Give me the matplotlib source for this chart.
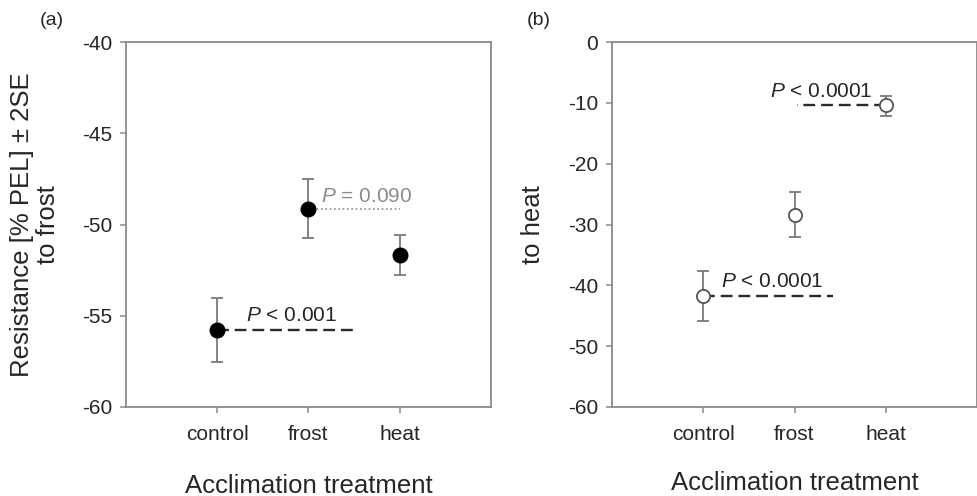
import matplotlib
matplotlib.use("Agg")
import matplotlib.pyplot as plt
import numpy as np

plt.rcParams['font.family'] = ['Liberation Sans', 'DejaVu Sans']
plt.rcParams['mathtext.fontset'] = 'custom'
plt.rcParams['mathtext.it'] = 'Liberation Sans:italic'
plt.rcParams['mathtext.rm'] = 'Liberation Sans'
plt.rcParams['axes.unicode_minus'] = False

categories = ['control', 'frost', 'heat']

# Panel (a): resistance to frost
frost_mean = [-55.8, -49.15, -51.65]
frost_err_hi = [1.8, 1.65, 1.05]
frost_err_lo = [1.75, 1.6, 1.1]

# Panel (b): resistance to heat
heat_mean = [-41.7, -28.4, -10.4]
heat_err_hi = [4.1, 3.8, 1.6]
heat_err_lo = [4.2, 3.7, 1.7]

# significance annotations: (from category index, to x-position, label, text x, text y, style, colour, lw)
ann_a = [
    (0, 1.52, r'$P$ < 0.001', 0.32, -55.3, (0, (5, 2.5)), '#2a2a2a', 1.7),
    (1, 2.0, r'$P$ = 0.090', 1.14, -48.75, (0, (1, 1.6)), '#8c8c8c', 1.2),
]
ann_b = [
    (0, 1.42, r'$P$ < 0.0001', 0.19, -40.3, (0, (5, 2.5)), '#2a2a2a', 1.7),
    (2, 1.03, r'$P$ < 0.0001', 0.73, -9.1, (0, (5, 2.5)), '#2a2a2a', 1.7),
]

W, H = 978, 496
fig = plt.figure(figsize=(W / 100, H / 100), dpi=100)

spine_col = '#8a8a8a'
txt_col = '#262626'


def make_ax(left_px):
    ax = fig.add_axes([left_px / W, (H - 407) / H, 365 / W, 365 / H])
    for s in ax.spines.values():
        s.set_color(spine_col)
        s.set_linewidth(1.3)
    ax.tick_params(direction='out', length=4, width=1.1, color=spine_col,
                   labelsize=15, labelcolor=txt_col, top=False, right=False)
    ax.tick_params(axis='x', pad=9)
    ax.tick_params(axis='y', pad=6)
    ax.set_xlim(-1, 3)
    x = np.arange(len(categories))
    ax.set_xticks(x)
    ax.set_xticklabels(categories)
    return ax


x = np.arange(len(categories))

# Panel (a)
axa = make_ax(126)
axa.set_ylim(-60, -40)
axa.set_yticks(np.arange(-60, -39, 5))
for (i0, xend, lab, tx, ty, ls, col, lw) in ann_a:
    axa.plot([x[i0], xend], [frost_mean[i0], frost_mean[i0]], linestyle=ls,
             color=col, lw=lw, zorder=2)
    axa.text(tx, ty, lab, fontsize=15, color=('#8c8c8c' if col == '#8c8c8c' else txt_col),
             ha='left', va='baseline')
axa.errorbar(x, frost_mean, yerr=[frost_err_lo, frost_err_hi], fmt='o',
             color='black', ms=10.5, ecolor='#7a7a7a', elinewidth=1.3,
             capsize=4, capthick=1.3, zorder=3)
axa.text(-0.25, 0.5, 'Resistance [% PEL] \u00b1 2SE\nto frost', transform=axa.transAxes,
         rotation=90, ha='center', va='center', fontsize=18.5, color=txt_col,
         linespacing=1.1)
axa.text(0.5, -0.235, 'Acclimation treatment', transform=axa.transAxes,
         ha='center', va='baseline', fontsize=18.5, color=txt_col)
fig.text(40 / W, 1 - 25 / H, '(a)', fontsize=14, color=txt_col, ha='left', va='baseline')

# Panel (b)
axb = make_ax(612)
axb.set_ylim(-60, 0)
axb.set_yticks(np.arange(-60, 1, 10))
for (i0, xend, lab, tx, ty, ls, col, lw) in ann_b:
    axb.plot([x[i0], xend], [heat_mean[i0], heat_mean[i0]], linestyle=ls,
             color=col, lw=lw, zorder=2)
    axb.text(tx, ty, lab, fontsize=15, color=txt_col, ha='left', va='baseline')
axb.errorbar(x, heat_mean, yerr=[heat_err_lo, heat_err_hi], fmt='o',
             mfc='white', mec='#555555', mew=1.3, ms=9.5, ecolor='#7a7a7a',
             elinewidth=1.3, capsize=4, capthick=1.3, zorder=3)
axb.text(-0.216, 0.5, 'to heat', transform=axb.transAxes,
         rotation=90, ha='center', va='center', fontsize=18.5, color=txt_col)
axb.text(0.5, -0.228, 'Acclimation treatment', transform=axb.transAxes,
         ha='center', va='baseline', fontsize=18.5, color=txt_col)
fig.text(527 / W, 1 - 25 / H, '(b)', fontsize=14, color=txt_col, ha='left', va='baseline')

fig.savefig('out.png', dpi=100)
